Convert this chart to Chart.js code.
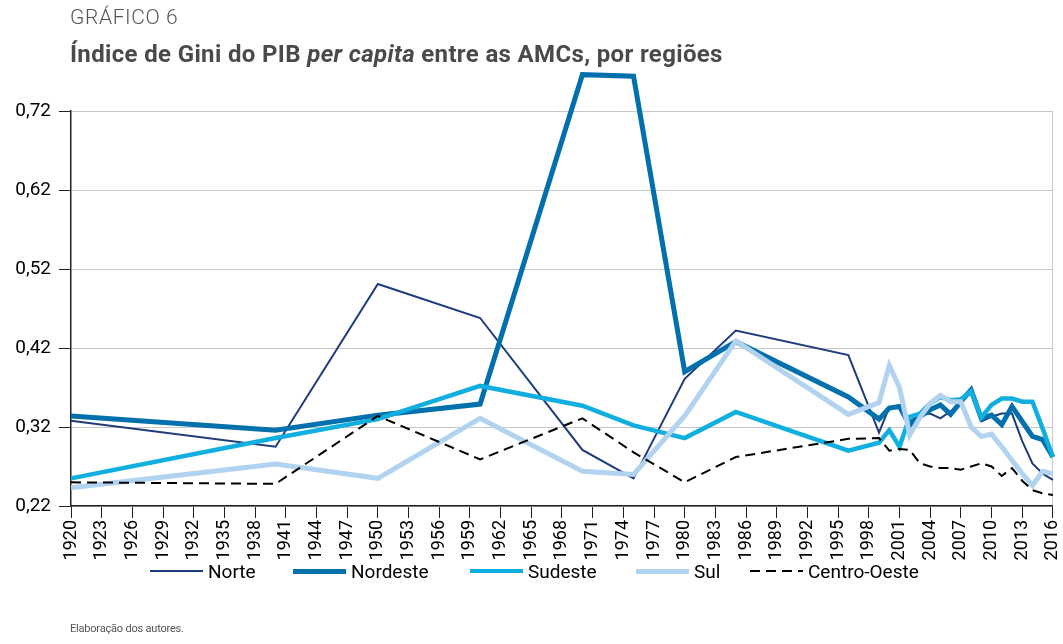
<!DOCTYPE html>
<html>
<head>
<meta charset="utf-8">
<script src="https://cdn.jsdelivr.net/npm/chart.js@4.4.0/dist/chart.umd.min.js"></script>
<style>
  body { margin: 0; background: #fff; }
  #wrap { position: relative; width: 1063px; height: 644px; font-family: Roboto, sans-serif; }
  #kicker { position: absolute; left: 70px; top: 5px; font-size: 21px; font-weight: 300; color: #555; letter-spacing: 0.6px; }
  #title { position: absolute; left: 70px; top: 40px; font-size: 24px; font-weight: bold; color: #4a4a4a; letter-spacing: 0.35px; }
  #fonte { position: absolute; left: 70px; top: 622px; font-size: 11px; color: #555; letter-spacing: -0.2px; }
  #legenda { position: absolute; left: 0; top: 559px; width: 1063px; height: 24px; font-size: 19px; color: #000; }
  .item { position: absolute; top: 0; display: flex; align-items: center; height: 24px; }
  .amostra { width: 53px; margin-right: 5px; }
  canvas { position: absolute; left: 0; top: 0; }
</style>
</head>
<body>
<div id="wrap">
  <canvas id="grafico" width="1063" height="644"></canvas>
  <div id="kicker">GRÁFICO 6</div>
  <div id="title">Índice de Gini do PIB <i>per capita</i> entre as AMCs, por regiões</div>
  <div id="legenda"></div>
  <div id="fonte">Elaboração dos autores.</div>
</div>
<script>
const anos = [1920, 1940, 1950, 1960, 1970, 1975, 1980, 1985, 1996, 1999, 2000, 2001, 2002, 2003,
  2004, 2005, 2006, 2007, 2008, 2009, 2010, 2011, 2012, 2013, 2014, 2015, 2016]

const norte = [0.328, 0.295, 0.501, 0.458, 0.291, 0.255, 0.381, 0.442, 0.411, 0.313, 0.345, 0.347, 0.327, 0.335,
  0.337, 0.331, 0.340, 0.350, 0.366, 0.327, 0.333, 0.337, 0.337, 0.302, 0.274, 0.261, 0.253]
const nordeste = [0.334, 0.316, 0.335, 0.349, 0.766, 0.764, 0.390, 0.428, 0.358, 0.330, 0.344, 0.346, 0.322, 0.333,
  0.342, 0.348, 0.336, 0.352, 0.367, 0.331, 0.335, 0.323, 0.346, 0.327, 0.308, 0.304, 0.282]
const sudeste = [0.255, 0.306, 0.330, 0.372, 0.347, 0.322, 0.306, 0.339, 0.290, 0.300, 0.316, 0.295, 0.333, 0.337,
  0.350, 0.358, 0.354, 0.355, 0.365, 0.332, 0.348, 0.356, 0.356, 0.352, 0.352, 0.318, 0.282]
const sul = [0.243, 0.273, 0.255, 0.331, 0.264, 0.260, 0.334, 0.429, 0.336, 0.351, 0.398, 0.370, 0.310, 0.332,
  0.350, 0.360, 0.352, 0.352, 0.320, 0.308, 0.311, 0.295, 0.278, 0.261, 0.246, 0.264, 0.261]
const centroOeste = [0.250, 0.248, 0.334, 0.279, 0.331, 0.288, 0.250, 0.282, 0.305, 0.306, 0.290, 0.292, 0.291, 0.274,
  0.270, 0.268, 0.268, 0.266, 0.270, 0.274, 0.270, 0.258, 0.268, 0.252, 0.240, 0.236, 0.234]

const yTicks = [0.22, 0.32, 0.42, 0.52, 0.62, 0.72]

const pares = (serie) => anos.map((ano, i) => ({ x: ano, y: serie[i] }))

const linha = (label, serie, cor, largura, ordem, dash) => ({
  label,
  data: pares(serie),
  borderColor: cor,
  backgroundColor: cor,
  borderWidth: largura,
  borderDash: dash || [],
  pointRadius: 0,
  tension: 0,
  clip: false,
  order: ordem
})

const ctx = document.getElementById('grafico').getContext('2d')

const config = {
  type: 'line',
  data: {
    datasets: [
      linha('Norte', norte, '#1d3c7c', 2, 5),
      linha('Nordeste', nordeste, '#0270ad', 5, 4),
      linha('Sudeste', sudeste, '#11afdf', 4.5, 3),
      linha('Sul', sul, '#b2d3f0', 5, 2),
      linha('Centro-Oeste', centroOeste, '#000000', 2, 1, [10, 6])
    ]
  },
  options: {
    responsive: false,
    animation: false,
    layout: { padding: { top: 111, right: 0, left: 0, bottom: 80 } },
    plugins: {
      tooltip: { enabled: false },
      legend: { display: false }
    },
    scales: {
      x: {
        type: 'linear',
        min: 1920,
        max: 2016,
        afterFit: (scale) => { scale.height = 58 },
        ticks: {
          stepSize: 3,
          autoSkip: false,
          minRotation: 90,
          maxRotation: 90,
          padding: 2,
          color: '#000',
          font: { family: 'Roboto', size: 18, lineHeight: 0.45 },
          callback: (value) => String(value)
        },
        grid: {
          color: (c) => c.tick && c.tick.value === 2016 ? '#c8c8c8' : 'transparent',
          tickColor: '#222',
          tickLength: 12
        },
        border: { color: '#222', width: 1.5 }
      },
      y: {
        min: 0.22,
        max: 0.72,
        afterFit: (scale) => { scale.width = 71 },
        afterBuildTicks: (scale) => { scale.ticks = yTicks.map(v => ({ value: v })) },
        ticks: {
          padding: 8,
          color: '#000',
          font: { family: 'Roboto', size: 19 },
          callback: (value) => value.toFixed(2).replace('.', ',')
        },
        grid: {
          color: '#c8c8c8',
          tickColor: '#222',
          tickLength: 12
        },
        border: { color: '#222', width: 1.5 }
      }
    }
  }
}

const grafico = new Chart(ctx, config)

// legenda em html, montada a partir das séries do gráfico
const posLegenda = [150, 293, 470, 636, 750]
const legenda = document.getElementById('legenda')
grafico.data.datasets.forEach((ds, i) => {
  const item = document.createElement('div')
  item.className = 'item'
  item.style.left = posLegenda[i] + 'px'
  const amostra = document.createElement('div')
  amostra.className = 'amostra'
  amostra.style.height = ds.borderWidth + 'px'
  if (ds.borderDash.length) {
    amostra.style.background = `repeating-linear-gradient(90deg, ${ds.borderColor} 0 ${ds.borderDash[0]}px, transparent ${ds.borderDash[0]}px ${ds.borderDash[0] + ds.borderDash[1]}px)`
  } else {
    amostra.style.background = ds.borderColor
  }
  const texto = document.createElement('span')
  texto.textContent = ds.label
  item.appendChild(amostra)
  item.appendChild(texto)
  legenda.appendChild(item)
})
</script>
</body>
</html>
